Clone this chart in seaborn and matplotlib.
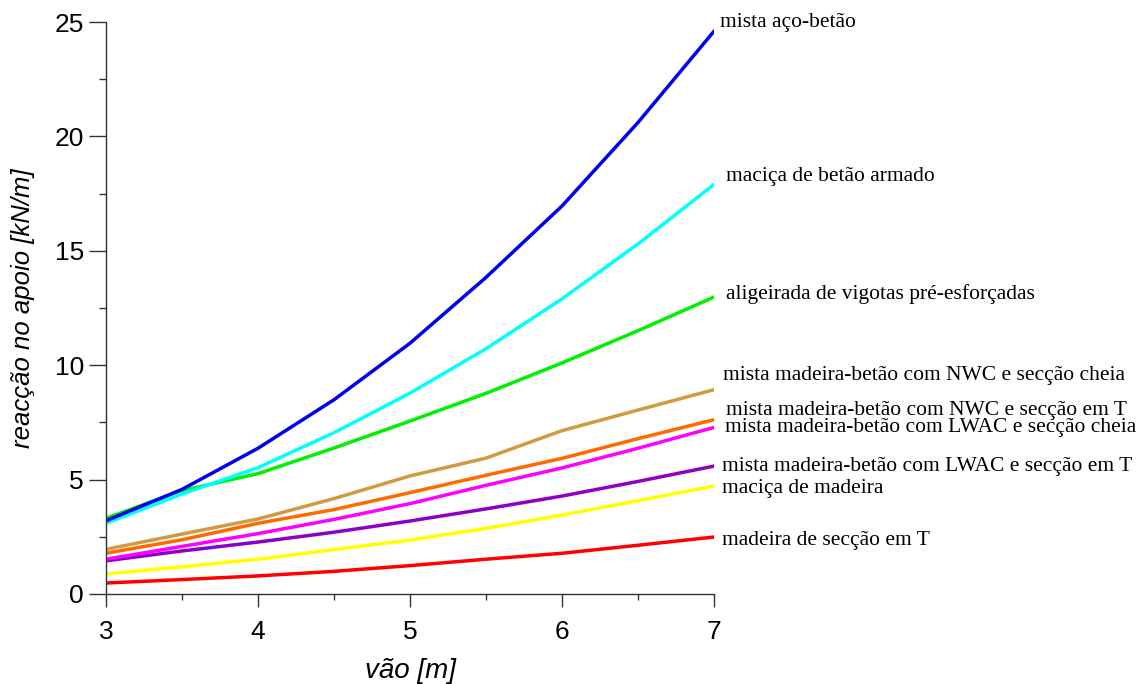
import numpy as np
import pandas as pd
import matplotlib
matplotlib.use("Agg")
import matplotlib.pyplot as plt
import seaborn as sns
from matplotlib.ticker import MultipleLocator

span = [3.0, 3.5, 4.0, 4.5, 5.0, 5.5, 6.0, 6.5, 7.0]

mista_aco_betao = [3.20, 4.57, 6.37, 8.49, 10.96, 13.84, 16.96, 20.61, 24.6]
macica_betao_armado = [3.09, 4.37, 5.52, 7.05, 8.78, 10.72, 12.9, 15.30, 17.9]
aligeirada = [3.31, 4.52, 5.26, 6.38, 7.56, 8.77, 10.1, 11.51, 12.98]
nwc_cheia = [1.95, 2.62, 3.28, 4.17, 5.16, 5.94, 7.14, 8.04, 8.93]
nwc_t = [1.78, 2.37, 3.09, 3.69, 4.43, 5.19, 5.93, 6.79, 7.62]
lwac_cheia = [1.52, 2.08, 2.64, 3.26, 3.95, 4.75, 5.51, 6.37, 7.28]
lwac_t = [1.45, 1.88, 2.27, 2.70, 3.19, 3.72, 4.28, 4.92, 5.59]
macica_madeira = [0.88, 1.19, 1.52, 1.94, 2.36, 2.87, 3.45, 4.08, 4.72]
madeira_t = [0.48, 0.63, 0.79, 0.99, 1.24, 1.52, 1.78, 2.13, 2.49]

names = [
    "mista aço-betão",
    "maciça de betão armado",
    "aligeirada de vigotas pré-esforçadas",
    "mista madeira-betão com NWC e secção cheia",
    "mista madeira-betão com NWC e secção em T",
    "mista madeira-betão com LWAC e secção cheia",
    "mista madeira-betão com LWAC e secção em T",
    "maciça de madeira",
    "madeira de secção em T",
]
series = [mista_aco_betao, macica_betao_armado, aligeirada, nwc_cheia, nwc_t,
          lwac_cheia, lwac_t, macica_madeira, madeira_t]
colors = ["#0000F0", "#00FFFF", "#00F000", "#D09A40", "#FF6A00",
          "#FF00FF", "#8C00C8", "#FFFF00", "#FF0000"]
# label anchor (x, y) in data units
label_pos = [(7.04, 25.0), (7.08, 18.23), (7.08, 13.11), (7.06, 9.53),
             (7.08, 8.04), (7.07, 7.26), (7.05, 5.59), (7.05, 4.59), (7.05, 2.32)]

df = pd.DataFrame({
    "vao": np.tile(span, len(names)),
    "reaccao": np.concatenate(series),
    "tipo": np.repeat(names, len(span)),
})

sns.set_style("ticks")
plt.rcParams["font.family"] = ["Liberation Sans", "DejaVu Sans"]

fig = plt.figure(figsize=(11.41, 6.84), dpi=100)
ax = fig.add_axes([0.0929, 0.1316, 0.5329, 0.8362])

sns.lineplot(data=df, x="vao", y="reaccao", hue="tipo", hue_order=names[::-1],
             palette=dict(zip(names, colors)), linewidth=2.5, legend=False, ax=ax,
             sort=True)

ax.set_xlim(3, 7)
ax.set_ylim(0, 25)
ax.xaxis.set_major_locator(MultipleLocator(1))
ax.xaxis.set_minor_locator(MultipleLocator(0.5))
ax.yaxis.set_major_locator(MultipleLocator(5))
ax.yaxis.set_minor_locator(MultipleLocator(2.5))
sns.despine(ax=ax)
for s in ["left", "bottom"]:
    ax.spines[s].set_color("#333333")
    ax.spines[s].set_linewidth(1.0)
ax.tick_params(axis="y", which="major", length=12, width=1.0, color="#333333",
               labelsize=19, labelcolor="black", pad=4)
ax.tick_params(axis="y", which="minor", length=5, width=1.0, color="#333333")
ax.tick_params(axis="x", which="major", length=9.5, width=1.0, color="#333333",
               labelsize=19, labelcolor="black", pad=9)
ax.tick_params(axis="x", which="minor", length=4.5, width=1.0, color="#333333")

ax.set_xlabel("vão [m]", fontsize=20, style="italic", labelpad=10, color="black")
ax.set_ylabel("reacção no apoio [kN/m]", fontsize=18.5, style="italic",
              labelpad=14, color="black")

for name, (lx, ly) in zip(names, label_pos):
    ax.text(lx, ly, name, fontsize=15.5, family="Liberation Serif", va="center",
            ha="left", clip_on=False, color="black")

fig.savefig("out.png", dpi=100)
